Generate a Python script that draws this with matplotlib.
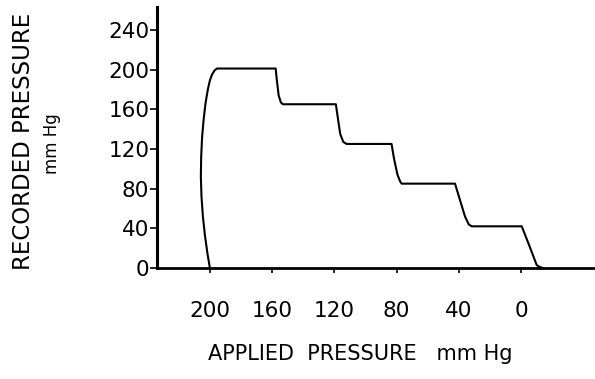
import matplotlib
matplotlib.use("Agg")
import matplotlib.pyplot as plt

# Recorded vs applied pressure trace (mm Hg)
applied = [200.0, 201.6, 203.2, 204.5, 205.4, 205.8, 205.6, 205.0, 204.0,
           202.8, 201.3, 200.0, 198.6, 197.0, 195.5,
           157.7, 157.0, 155.8, 154.4, 153.1,
           119.0, 117.8, 116.2, 114.2, 112.1,
           83.2, 81.6, 79.4, 77.6, 76.7,
           42.4, 39.5, 36.0, 33.6, 31.7,
           -0.5, -5.5, -10.1, -12.0, -14.2]
recorded = [0, 15, 33, 52, 72, 92, 112, 132, 150,
            166, 180, 189, 195, 199, 201,
            201, 190, 174, 167, 165,
            165, 152, 135, 127, 125,
            125, 110, 94, 87, 85,
            85, 70, 52, 44, 42,
            42, 22, 3, 1, 0]

x_ticks = [200, 160, 120, 80, 40, 0]
x_tick_labels = ["200", "160", "120", "80", "40", "0"]
y_ticks = [0, 40, 80, 120, 160, 200, 240]
y_tick_labels = ["0", "40", "80", "120", "160", "200", "240"]

plt.rcParams["font.family"] = "DejaVu Sans"

fig = plt.figure(figsize=(5.95, 3.79), dpi=100)
ax = fig.add_axes([157 / 595, 1 - 268 / 379, 1 - 157 / 595, (268 - 7) / 379])

ax.plot(applied, recorded, color="black", lw=1.5,
        solid_joinstyle="round", solid_capstyle="round")

ax.set_xlim(234.0, -47.6)
ax.set_ylim(0, 263)

ax.set_xticks(x_ticks)
ax.set_xticklabels(x_tick_labels)
ax.set_yticks(y_ticks)
ax.set_yticklabels(y_tick_labels)
ax.tick_params(axis="y", direction="out", length=5, width=1.2, pad=0.5, labelsize=15.5)
ax.tick_params(axis="x", direction="out", length=3.5, width=1.2, pad=20, labelsize=15.5)

for side in ("top", "right"):
    ax.spines[side].set_visible(False)
ax.spines["left"].set_linewidth(2.2)
ax.spines["bottom"].set_linewidth(2.0)

fig.text(360 / 595, 1 - 354 / 379, "APPLIED  PRESSURE   mm Hg",
         ha="center", va="center", fontsize=15)
fig.text(24 / 595, 1 - 141 / 379, "RECORDED PRESSURE",
         ha="center", va="center", rotation=90, fontsize=16.5)
fig.text(52 / 595, 1 - 144 / 379, "mm Hg",
         ha="center", va="center", rotation=90, fontsize=12)

fig.savefig("out.png", dpi=100)
